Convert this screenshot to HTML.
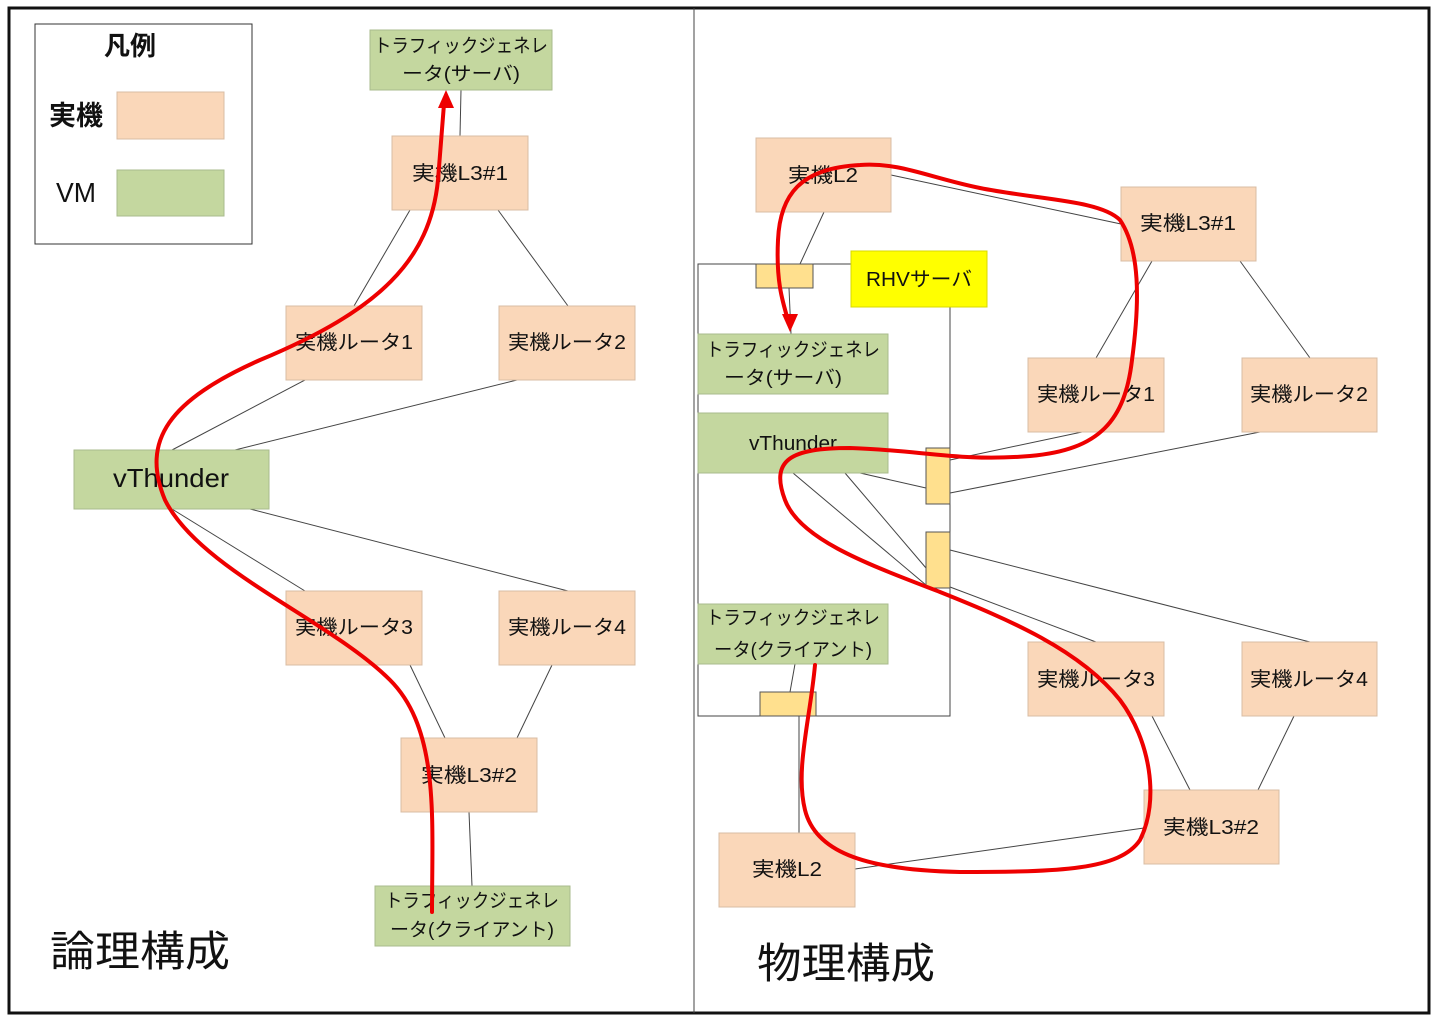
<!DOCTYPE html>
<html><head><meta charset="utf-8"><style>
html,body{margin:0;padding:0;background:#fff;}
svg{display:block;}
text{font-family:"Liberation Sans","Noto Sans CJK JP",sans-serif;fill:#111;}
.j{fill:#fad7b9;stroke:#d8bca4;stroke-width:1;}
.v{fill:#c4d79f;stroke:#a9bb8c;stroke-width:1;}
.p{fill:#ffe08e;stroke:#555;stroke-width:1;}
.l{stroke:#444;stroke-width:1;fill:none;}
.r{stroke:#ee0000;stroke-width:4;fill:none;stroke-linecap:round;}
.d{fill:#556;}
</style></head><body>
<svg width="1440" height="1021" viewBox="0 0 1440 1021" xmlns="http://www.w3.org/2000/svg">
<rect x="9" y="8" width="1420" height="1005" fill="#fff" stroke="#111" stroke-width="3"/>
<line x1="694" y1="8" x2="694" y2="1013" stroke="#444" stroke-width="1"/>

<!-- legend -->
<rect x="35" y="24" width="217" height="220" fill="#fff" stroke="#333" stroke-width="1"/>
<text x="130" y="55" font-size="26" font-weight="bold" text-anchor="middle">凡例</text>
<text x="76" y="125" font-size="27" font-weight="bold" text-anchor="middle">実機</text>
<rect class="j" x="117" y="92" width="107" height="47"/>
<text x="76" y="202" font-size="28" text-anchor="middle" textLength="40" lengthAdjust="spacingAndGlyphs">VM</text>
<rect class="v" x="117" y="170" width="107" height="46"/>

<!-- left lines -->
<g class="l">
<line x1="461" y1="90" x2="460" y2="136"/>
<line x1="410" y1="210" x2="354" y2="306"/>
<line x1="498" y1="210" x2="568" y2="306"/>
<line x1="305" y1="380" x2="172" y2="450"/>
<line x1="517" y1="380" x2="235" y2="450"/>
<line x1="172" y1="509" x2="305" y2="591"/>
<line x1="250" y1="509" x2="568" y2="591"/>
<line x1="410" y1="665" x2="445" y2="738"/>
<line x1="552" y1="665" x2="517" y2="738"/>
<line x1="469" y1="812" x2="472" y2="886"/>
</g>

<!-- left nodes -->
<rect class="v" x="370" y="30" width="182" height="60"/>
<text x="461" y="52" font-size="19" text-anchor="middle" textLength="174" lengthAdjust="spacingAndGlyphs">トラフィックジェネレ</text>
<text x="461" y="80" font-size="19" text-anchor="middle" textLength="118" lengthAdjust="spacingAndGlyphs">ータ(サーバ)</text>
<rect class="j" x="392" y="136" width="136" height="74"/>
<text x="460" y="180" font-size="20" text-anchor="middle" textLength="96" lengthAdjust="spacingAndGlyphs">実機L3#1</text>
<rect class="j" x="286" y="306" width="136" height="74"/>
<text x="354" y="349" font-size="20" text-anchor="middle" textLength="118" lengthAdjust="spacingAndGlyphs">実機ルータ1</text>
<rect class="j" x="499" y="306" width="136" height="74"/>
<text x="567" y="349" font-size="20" text-anchor="middle" textLength="118" lengthAdjust="spacingAndGlyphs">実機ルータ2</text>
<rect class="v" x="74" y="450" width="195" height="59"/>
<text x="171" y="487" font-size="26" text-anchor="middle" textLength="116" lengthAdjust="spacingAndGlyphs">vThunder</text>
<rect class="j" x="286" y="591" width="136" height="74"/>
<text x="354" y="634" font-size="20" text-anchor="middle" textLength="118" lengthAdjust="spacingAndGlyphs">実機ルータ3</text>
<rect class="j" x="499" y="591" width="136" height="74"/>
<text x="567" y="634" font-size="20" text-anchor="middle" textLength="118" lengthAdjust="spacingAndGlyphs">実機ルータ4</text>
<rect class="j" x="401" y="738" width="136" height="74"/>
<text x="469" y="782" font-size="20" text-anchor="middle" textLength="96" lengthAdjust="spacingAndGlyphs">実機L3#2</text>
<rect class="v" x="375" y="886" width="195" height="60"/>
<text x="472" y="907" font-size="19" text-anchor="middle" textLength="174" lengthAdjust="spacingAndGlyphs">トラフィックジェネレ</text>
<text x="472" y="936" font-size="19" text-anchor="middle" textLength="164" lengthAdjust="spacingAndGlyphs">ータ(クライアント)</text>

<text x="50" y="966" font-size="42" textLength="180" lengthAdjust="spacingAndGlyphs">論理構成</text>

<!-- right: VM box -->
<rect x="698" y="264" width="252" height="452" fill="none" stroke="#444" stroke-width="1"/>
<g class="l">
<line x1="824" y1="212" x2="800" y2="264"/>
<line x1="891" y1="175" x2="1121" y2="224"/>
<line x1="1152" y1="261" x2="1096" y2="358"/>
<line x1="1240" y1="261" x2="1310" y2="358"/>
<line x1="789" y1="288" x2="791" y2="334"/>
<line x1="1082" y1="432" x2="950" y2="460"/>
<line x1="1260" y1="432" x2="950" y2="493"/>
<line x1="860" y1="473" x2="926" y2="488"/>
<line x1="793" y1="473" x2="926" y2="585"/>
<line x1="845" y1="473" x2="926" y2="568"/>
<line x1="950" y1="550" x2="1310" y2="642"/>
<line x1="950" y1="587" x2="1096" y2="642"/>
<line x1="1152" y1="716" x2="1190" y2="790"/>
<line x1="1294" y1="716" x2="1258" y2="790"/>
<line x1="795" y1="664" x2="790" y2="692"/>
<line x1="799" y1="716" x2="799" y2="833"/>
<line x1="855" y1="869" x2="1144" y2="828"/>
<line x1="920" y1="307" x2="950" y2="307"/>
</g>
<rect class="p" x="756" y="264" width="57" height="24"/>
<rect class="p" x="926" y="448" width="24" height="56"/>
<rect class="p" x="926" y="532" width="24" height="56"/>
<rect class="p" x="760" y="692" width="56" height="24"/>

<rect class="j" x="756" y="138" width="135" height="74"/>
<text x="823" y="182" font-size="20" text-anchor="middle" textLength="70" lengthAdjust="spacingAndGlyphs">実機L2</text>
<rect class="j" x="1121" y="187" width="135" height="74"/>
<text x="1188" y="230" font-size="20" text-anchor="middle" textLength="96" lengthAdjust="spacingAndGlyphs">実機L3#1</text>
<rect x="851" y="251" width="136" height="56" fill="#ffff00" stroke="#d8d800"/>
<text x="919" y="286" font-size="20" text-anchor="middle" textLength="106" lengthAdjust="spacingAndGlyphs">RHVサーバ</text>
<rect class="v" x="698" y="334" width="190" height="60"/>
<text x="793" y="356" font-size="19" text-anchor="middle" textLength="174" lengthAdjust="spacingAndGlyphs">トラフィックジェネレ</text>
<text x="783" y="384" font-size="19" text-anchor="middle" textLength="118" lengthAdjust="spacingAndGlyphs">ータ(サーバ)</text>
<rect class="v" x="698" y="413" width="190" height="60"/>
<text x="793" y="450" font-size="20" text-anchor="middle" textLength="88" lengthAdjust="spacingAndGlyphs">vThunder</text>
<rect class="j" x="1028" y="358" width="136" height="74"/>
<text x="1096" y="401" font-size="20" text-anchor="middle" textLength="118" lengthAdjust="spacingAndGlyphs">実機ルータ1</text>
<rect class="j" x="1242" y="358" width="135" height="74"/>
<text x="1309" y="401" font-size="20" text-anchor="middle" textLength="118" lengthAdjust="spacingAndGlyphs">実機ルータ2</text>
<rect class="v" x="698" y="604" width="190" height="60"/>
<text x="793" y="624" font-size="19" text-anchor="middle" textLength="174" lengthAdjust="spacingAndGlyphs">トラフィックジェネレ</text>
<text x="793" y="656" font-size="19" text-anchor="middle" textLength="158" lengthAdjust="spacingAndGlyphs">ータ(クライアント)</text>
<rect class="j" x="1028" y="642" width="136" height="74"/>
<text x="1096" y="686" font-size="20" text-anchor="middle" textLength="118" lengthAdjust="spacingAndGlyphs">実機ルータ3</text>
<rect class="j" x="1242" y="642" width="135" height="74"/>
<text x="1309" y="686" font-size="20" text-anchor="middle" textLength="118" lengthAdjust="spacingAndGlyphs">実機ルータ4</text>
<rect class="j" x="1144" y="790" width="135" height="74"/>
<text x="1211" y="834" font-size="20" text-anchor="middle" textLength="96" lengthAdjust="spacingAndGlyphs">実機L3#2</text>
<rect class="j" x="719" y="833" width="136" height="74"/>
<text x="787" y="876" font-size="20" text-anchor="middle" textLength="70" lengthAdjust="spacingAndGlyphs">実機L2</text>

<text x="757" y="978" font-size="42" textLength="178" lengthAdjust="spacingAndGlyphs">物理構成</text>

<!-- red paths -->
<path class="r" d="M432,912 C432,820 440,730 390,680 C330,620 200,570 165,500 C140,440 170,400 260,360 C380,310 430,260 438,180 L444,104"/>
<polygon points="446,90 438,108 454,108" fill="#ee0000"/>
<path class="r" d="M815,665 C810,720 795,770 805,810 C815,850 860,870 960,872 C1060,872 1120,870 1140,840 C1160,800 1150,740 1120,700 C1080,650 1010,620 940,592 C870,565 800,540 785,500 C770,460 790,448 850,448 C920,450 960,462 1030,456 C1100,450 1125,420 1132,360 C1140,300 1140,250 1120,220 C1100,200 1040,200 980,188 C930,178 900,162 860,165 C800,168 780,195 778,240 C776,280 782,300 788,320"/>
<polygon points="790,332 782,314 798,314" fill="#ee0000"/>
</svg>
</body></html>
